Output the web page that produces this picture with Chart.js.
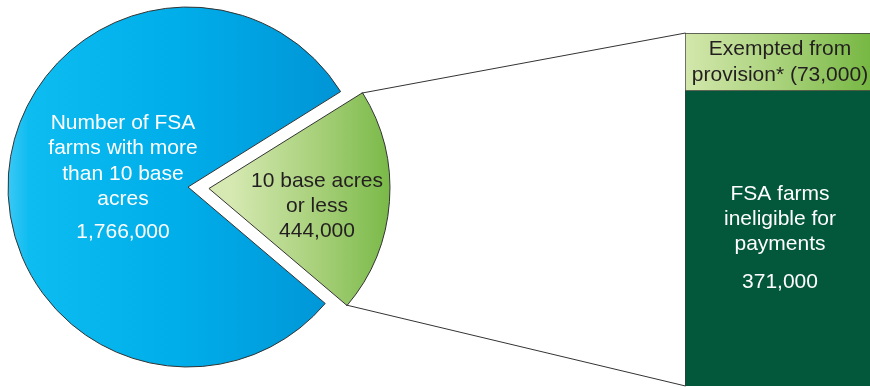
<!DOCTYPE html>
<html>
<head>
<meta charset="utf-8">
<script src="https://cdn.jsdelivr.net/npm/chart.js@4.4.1/dist/chart.umd.min.js"></script>
<style>
  html, body { margin: 0; padding: 0; background: #ffffff; overflow: hidden; }
  #wrap { position: relative; width: 870px; height: 387px; overflow: hidden; }
  #pie { position: absolute; left: 0; top: 0; }
  #bar { position: absolute; left: 685px; top: 0; }
</style>
</head>
<body>
<div id="wrap">
  <canvas id="pie" width="870" height="387"></canvas>
  <canvas id="bar" width="190" height="387"></canvas>
</div>
<script>
// ---- data ----
const pieCategories = ['10 base acres or less', 'Number of FSA farms with more than 10 base acres'];
const pieValues = [444000, 1766000];
const pieTextLines = [['10 base acres', 'or less'], ['Number of FSA', 'farms with more', 'than 10 base', 'acres']];

const barCategories = ['FSA farms ineligible for payments', 'Exempted from provision*'];
const barValues = [371000, 73000];
const barTextLines = [['FSA farms', 'ineligible for', 'payments'], ['Exempted from', 'provision* (73,000)']];

const fmt = v => v.toLocaleString('en-US');
const FONT = '21px "Liberation Sans", Arial, sans-serif';
const EXPLODE = 21;

// ---- bar (breakdown of the small slice) ----
const barChart = new Chart(document.getElementById('bar'), {
  type: 'bar',
  data: {
    labels: [''],
    datasets: [
      {
        label: barCategories[0],
        data: [barValues[0]],
        backgroundColor: '#03573b',
        borderColor: '#3a3a3a',
        borderWidth: { left: 1, top: 0, right: 0, bottom: 0 },
        borderSkipped: false,
        barPercentage: 1, categoryPercentage: 1
      },
      {
        label: barCategories[1],
        data: [barValues[1]],
        backgroundColor: (c) => {
          const ca = c.chart.chartArea;
          if (!ca) return '#a8d07a';
          const g = c.chart.ctx.createLinearGradient(ca.left, 0, ca.right, 0);
          g.addColorStop(0, '#d3e7ac');
          g.addColorStop(0.5, '#a9d27b');
          g.addColorStop(1, '#74b640');
          return g;
        },
        borderColor: '#3a3a3a',
        borderWidth: 1,
        borderSkipped: false,
        barPercentage: 1, categoryPercentage: 1
      }
    ]
  },
  options: {
    responsive: false,
    animation: false,
    events: [],
    layout: { padding: { left: 0, right: 0, top: 33, bottom: 1 } },
    scales: {
      x: { display: false, stacked: true },
      y: { display: false, stacked: true, min: 0, max: barValues[0] + barValues[1] }
    },
    plugins: { legend: { display: false }, tooltip: { enabled: false } }
  },
  plugins: [{
    id: 'barText',
    afterDatasetsDraw(chart) {
      const ctx = chart.ctx;
      ctx.save();
      ctx.font = FONT;
      ctx.textAlign = 'center';
      ctx.textBaseline = 'middle';
      // top (exempted)
      const top = chart.getDatasetMeta(1).data[0];
      const tcy = (top.y + top.base) / 2;
      ctx.fillStyle = '#231f20';
      barTextLines[1].forEach((t, i) => ctx.fillText(t, top.x, tcy - 13 + i * 26));
      // bottom (ineligible)
      const bot = chart.getDatasetMeta(0).data[0];
      const bcy = (bot.y + bot.base) / 2;
      ctx.fillStyle = '#ffffff';
      const lines = barTextLines[0].concat([fmt(barValues[0])]);
      const ys = [-44, -19, 6, 44];
      lines.forEach((t, i) => ctx.fillText(t, bot.x, bcy + ys[i]));
      ctx.restore();
    }
  }]
});

// ---- pie ----
const barLeft = 685;
const pieChart = new Chart(document.getElementById('pie'), {
  type: 'pie',
  data: {
    labels: pieCategories,
    datasets: [{
      data: pieValues,
      backgroundColor: (c) => {
        const ca = c.chart.chartArea;
        if (!ca) return '#00aeef';
        const cx = (ca.left + ca.right) / 2;
        const g2 = c.chart.ctx;
        if (c.dataIndex === 0) {
          const g = g2.createLinearGradient(cx + EXPLODE, 0, cx + EXPLODE + 180, 0);
          g.addColorStop(0, '#d6e9b2');
          g.addColorStop(0.5, '#a6cf78');
          g.addColorStop(1, '#6db33b');
          return g;
        }
        const g = g2.createLinearGradient(cx - 180, 0, cx + 180, 0);
        g.addColorStop(0, '#3ac8f5');
        g.addColorStop(0.06, '#0dbcf0');
        g.addColorStop(0.45, '#00afea');
        g.addColorStop(1, '#0090d3');
        return g;
      },
      borderColor: '#333333',
      borderWidth: 1,
      offset: [EXPLODE * 4, 0]
    }]
  },
  options: {
    responsive: false,
    animation: false,
    events: [],
    rotation: 58,
    radius: 180,
    layout: { padding: { left: 0, right: 494, top: 0, bottom: 13 } },
    plugins: { legend: { display: false }, tooltip: { enabled: false } }
  },
  plugins: [{
    id: 'pieExtras',
    afterDatasetsDraw(chart) {
      const ctx = chart.ctx;
      const arcs = chart.getDatasetMeta(0).data;
      const g = arcs[0];
      const cx = g.x, cy = g.y;
      const mid = (g.startAngle + g.endAngle) / 2;
      const d = (g.options.offset || 0) / 4;
      const px = cx + Math.cos(mid) * d, py = cy + Math.sin(mid) * d;
      const R = g.outerRadius;
      const p1 = [px + Math.cos(g.startAngle) * R, py + Math.sin(g.startAngle) * R];
      const p2 = [px + Math.cos(g.endAngle) * R, py + Math.sin(g.endAngle) * R];
      const topBar = barChart.getDatasetMeta(1).data[0];
      const botBar = barChart.getDatasetMeta(0).data[0];
      const bx = barLeft + topBar.x - topBar.width / 2 + 0.5;
      ctx.save();
      ctx.strokeStyle = '#333333';
      ctx.lineWidth = 1;
      ctx.beginPath();
      ctx.moveTo(p1[0], p1[1]); ctx.lineTo(bx, topBar.y);
      ctx.moveTo(p2[0], p2[1]); ctx.lineTo(bx, botBar.base);
      ctx.stroke();

      ctx.font = FONT;
      ctx.textAlign = 'center';
      ctx.textBaseline = 'middle';
      // small slice label
      ctx.fillStyle = '#231f20';
      const gl = pieTextLines[0].concat([fmt(pieValues[0])]);
      gl.forEach((t, i) => ctx.fillText(t, cx + 129, cy - 6 + i * 25));
      // big slice label
      ctx.fillStyle = '#ffffff';
      const bl = pieTextLines[1];
      bl.forEach((t, i) => ctx.fillText(t, cx - 65, cy - 64 + i * 25.5));
      ctx.fillText(fmt(pieValues[1]), cx - 65, cy + 45);
      ctx.restore();
    }
  }]
});
</script>
</body>
</html>
